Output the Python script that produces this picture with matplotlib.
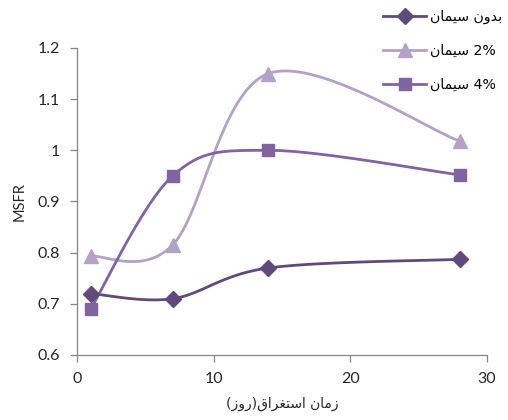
import numpy as np
import matplotlib
matplotlib.use("Agg")
import matplotlib.pyplot as plt
from matplotlib.ticker import FuncFormatter

# Immersion time (days)
days = [1, 7, 14, 28]

# MSFR per mix
msfr_no_cement = [0.72, 0.71, 0.77, 0.787]
msfr_cement_2 = [0.793, 0.815, 1.15, 1.018]
msfr_cement_4 = [0.69, 0.95, 1.00, 0.952]

# Arabic-script labels written with presentation forms in display order,
# since matplotlib does not shape or reorder right-to-left text
SIMAN = "\uFEE5\uFE8E\uFEE4\uFEF4\uFEB3"
BEDUN = "\uFEE5\uFEED\uFEAA\uFE91"
labels = [SIMAN + " " + BEDUN, SIMAN + " 2%", SIMAN + " 4%"]
xlabel = "(\uFEAF\uFEED\uFEAD)\uFED5\uFE8D\uFEAE\uFED0\uFE98\uFEB3\uFE8D \uFEE5\uFE8E\uFEE3\uFEAF"

colors = ["#604A7B", "#B3A2C7", "#8064A2"]
markers = ["D", "^", "s"]
msizes = [8, 10, 9]


def smooth(x, y, n=40):
    # cardinal spline through the points, like spreadsheet "smoothed line"
    x = np.asarray(x, float)
    y = np.asarray(y, float)
    px = np.concatenate([[x[0]], x, [x[-1]]])
    py = np.concatenate([[y[0]], y, [y[-1]]])
    xs, ys = [], []
    t = np.linspace(0, 1, n)
    for i in range(1, len(px) - 2):
        p0 = np.array([px[i], py[i]])
        p3 = np.array([px[i + 1], py[i + 1]])
        c1 = p0 + (np.array([px[i + 1], py[i + 1]]) - np.array([px[i - 1], py[i - 1]])) / 6
        c2 = p3 - (np.array([px[i + 2], py[i + 2]]) - np.array([px[i], py[i]])) / 6
        b = ((1 - t) ** 3)[:, None] * p0 + (3 * (1 - t) ** 2 * t)[:, None] * c1 \
            + (3 * (1 - t) * t ** 2)[:, None] * c2 + (t ** 3)[:, None] * p3
        xs.extend(b[:, 0])
        ys.extend(b[:, 1])
    return xs, ys


fig = plt.figure(figsize=(5.08, 4.2), dpi=100)
ax = fig.add_axes([0.1516, 0.1548, 0.807, 0.731])

series = [msfr_no_cement, msfr_cement_2, msfr_cement_4]
handles = []
for vals, c, m, ms in zip(series, colors, markers, msizes):
    sx, sy = smooth(days, vals)
    ax.plot(sx, sy, color=c, lw=2.0, zorder=2)
    ax.plot(days, vals, linestyle="none", marker=m, ms=ms, color=c, zorder=3)
    h, = ax.plot([], [], color=c, lw=2.0, marker=m, ms=ms)
    handles.append(h)

ax.set_xlim(0, 30)
ax.set_ylim(0.6, 1.2)
ax.set_xticks([0, 10, 20, 30])
ax.set_yticks([0.6, 0.7, 0.8, 0.9, 1.0, 1.1, 1.2])
ax.yaxis.set_major_formatter(FuncFormatter(lambda v, p: f"{v:g}"))

for s in ["top", "right"]:
    ax.spines[s].set_visible(False)
for s in ["left", "bottom"]:
    ax.spines[s].set_color("#868686")
    ax.spines[s].set_linewidth(0.9)
ax.tick_params(colors="#868686", length=5, width=0.9, direction="out",
               labelcolor="#262626", labelsize=11.5, pad=7)
for lab in ax.get_xticklabels() + ax.get_yticklabels():
    lab.set_family("Lato")

ax.set_ylabel("MSFR", fontsize=10.5, family="Lato", color="#262626", labelpad=8)
ax.set_xlabel(xlabel, fontsize=10, family="DejaVu Sans", color="#262626", labelpad=8)

leg = fig.legend(handles, labels, loc="upper left", bbox_to_anchor=(0.735, 1.0),
                 frameon=False, prop={"family": ["DejaVu Sans"], "size": 10.2},
                 handlelength=3.0, labelspacing=1.4, handletextpad=0.3,
                 borderaxespad=0.3)

fig.savefig("out.png", dpi=100)
